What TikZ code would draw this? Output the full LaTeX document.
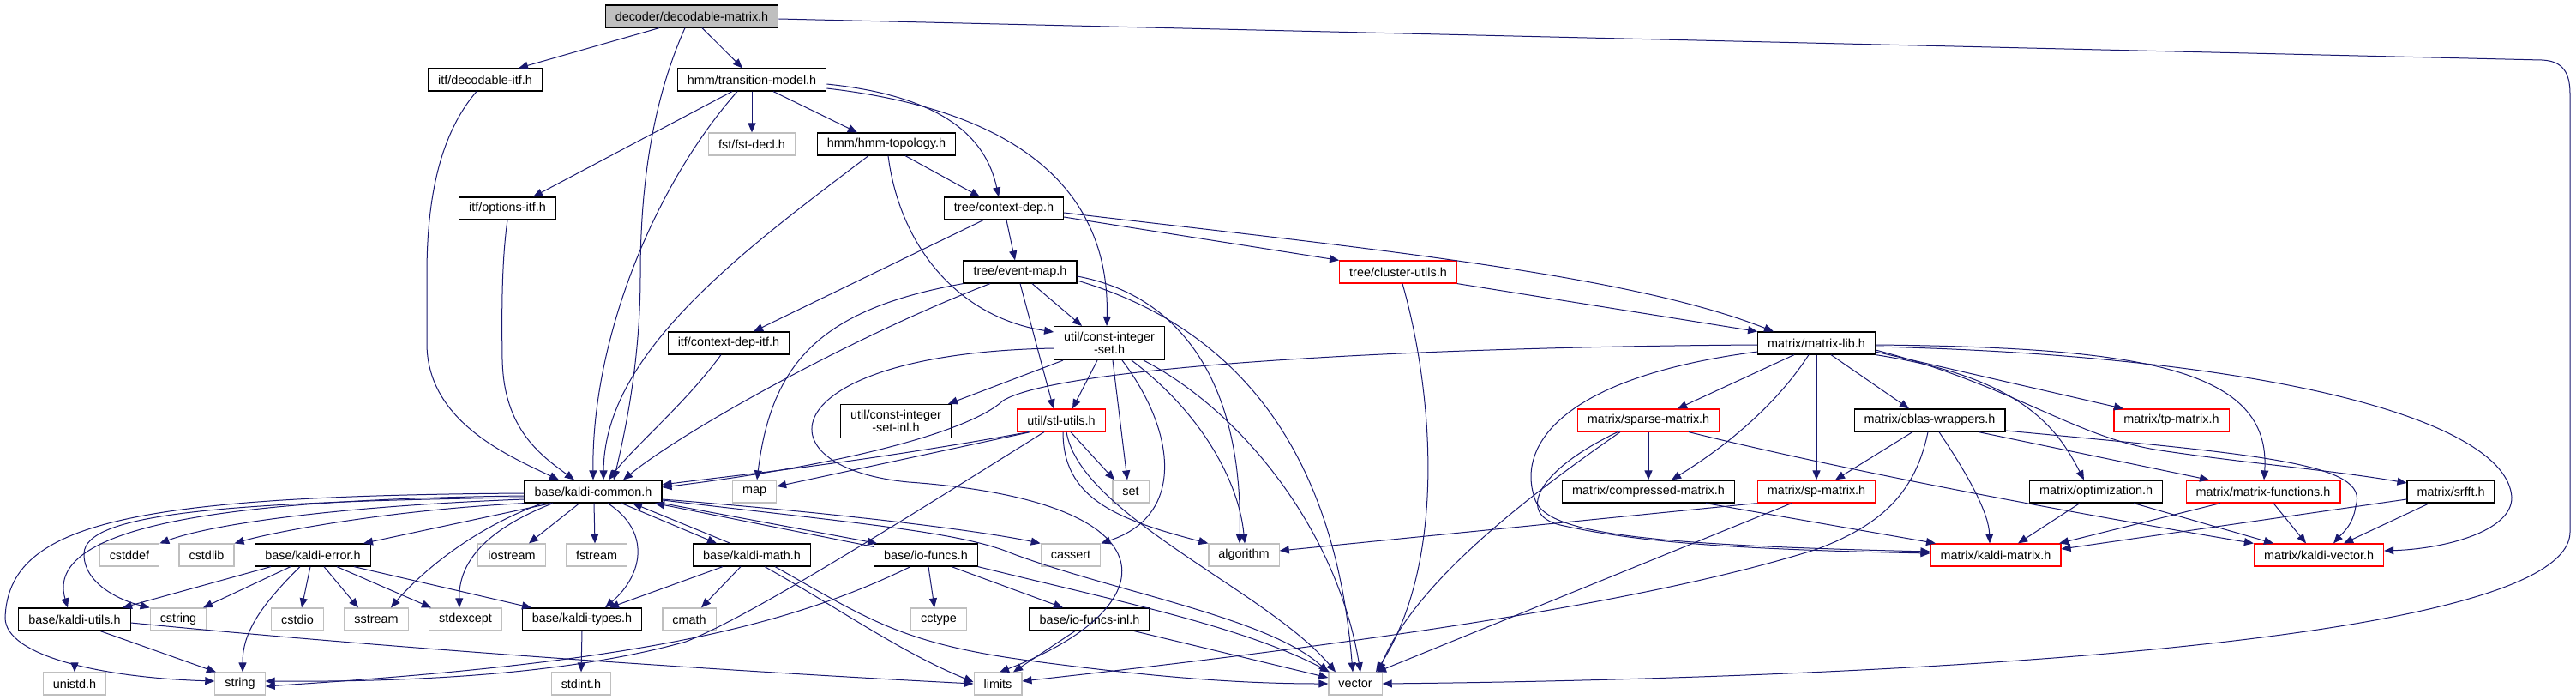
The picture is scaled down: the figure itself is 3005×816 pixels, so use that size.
\documentclass[tikz,border=0pt]{standalone}
\usepackage{fontspec}
\setmainfont{Liberation Sans}
\usetikzlibrary{arrows.meta}
\definecolor{depblue}{RGB}{25,25,112}
\definecolor{sysgray}{RGB}{191,191,191}
\definecolor{truncred}{RGB}{255,0,0}

\begin{document}
\begin{tikzpicture}[
    x=1pt, y=-1pt,
    file/.style={
      draw=black, fill=white, line width=1.2pt, minimum height=26pt,
      inner xsep=11.5pt, inner ysep=2pt, align=center,
      font=\fontsize{14.4}{15}\selectfont
    },
    sysfile/.style={file, draw=sysgray},
    redfile/.style={file, draw=truncred},
    rootfile/.style={file, fill=sysgray},
    twoline/.style={minimum height=39pt},
    dep/.style={-{Triangle[length=11pt,width=9pt]}, line width=1pt,
                color=depblue},
  ]

  \path[use as bounding box, fill=white] (0,0) rectangle (3005,816);

  % --- Upper levels ---
  \node[rootfile] (root) at (807,19) {decoder/decodable-matrix.h};
  \node[file] (decitf) at (566,93) {itf/decodable-itf.h};
  \node[file] (trans) at (877,93) {hmm/transition-model.h};
  \node[sysfile] (fstdecl) at (877,168) {fst/fst-decl.h};
  \node[file] (hmmtopo) at (1034,168) {hmm/hmm-topology.h};
  \node[file] (optitf) at (592,243) {itf/options-itf.h};
  \node[file] (ctxdep) at (1171,243) {tree/context-dep.h};
  \node[file] (evmap) at (1190,317) {tree/event-map.h};
  \node[redfile] (clutil) at (1631,317) {tree/cluster-utils.h};
  \node[file] (ctxitf) at (850,400) {itf/context-dep-itf.h};
  \node[file, twoline] (cis) at (1294,400) {util/const-integer\\-set.h};
  \node[file] (mlib) at (2119,400) {matrix/matrix-lib.h};
  \node[file, twoline] (cisinl) at (1045,491) {util/const-integer\\-set-inl.h};
  \node[redfile] (stl) at (1238,490) {util/stl-utils.h};
  \node[redfile] (sparse) at (1923,490) {matrix/sparse-matrix.h};
  \node[file] (cblas) at (2251,490) {matrix/cblas-wrappers.h};
  \node[redfile] (tpmat) at (2533,490) {matrix/tp-matrix.h};

  % --- base and matrix row ---
  \node[file] (common) at (692,573) {base/kaldi-common.h};
  \node[sysfile] (map) at (880,573) {map};
  \node[sysfile] (set) at (1319,573) {set};
  \node[file] (compr) at (1923,573) {matrix/compressed-matrix.h};
  \node[redfile] (sp) at (2119,573) {matrix/sp-matrix.h};
  \node[file] (optim) at (2445,573) {matrix/optimization.h};
  \node[redfile] (mfun) at (2640,573) {matrix/matrix-functions.h};
  \node[file] (srfft) at (2859,573) {matrix/srfft.h};

  \node[sysfile] (cstddef) at (151,647) {cstddef};
  \node[sysfile] (cstdlib) at (241,647) {cstdlib};
  \node[file] (kerr) at (365,647) {base/kaldi-error.h};
  \node[sysfile] (iostream) at (597,647) {iostream};
  \node[sysfile] (fstream) at (696,647) {fstream};
  \node[file] (kmath) at (877,647) {base/kaldi-math.h};
  \node[file] (iof) at (1080,647) {base/io-funcs.h};
  \node[sysfile] (cassert) at (1249,647) {cassert};
  \node[sysfile] (algo) at (1451,647) {algorithm};
  \node[redfile] (kmat) at (2328,647) {matrix/kaldi-matrix.h};
  \node[redfile] (kvec) at (2705,647) {matrix/kaldi-vector.h};

  \node[file] (kutil) at (87,722) {base/kaldi-utils.h};
  \node[sysfile] (cstring) at (208,722) {cstring};
  \node[sysfile] (cstdio) at (347,722) {cstdio};
  \node[sysfile] (sstream) at (439,722) {sstream};
  \node[sysfile] (stdexcept) at (543,722) {stdexcept};
  \node[file] (ktypes) at (679,722) {base/kaldi-types.h};
  \node[sysfile] (cmath) at (804,722) {cmath};
  \node[sysfile] (cctype) at (1095,722) {cctype};
  \node[file] (iofinl) at (1271,722) {base/io-funcs-inl.h};

  \node[sysfile] (unistd) at (87,797) {unistd.h};
  \node[sysfile] (string) at (280,797) {string};
  \node[sysfile] (stdint) at (678,797) {stdint.h};
  \node[sysfile] (limits) at (1164,797) {limits};
  \node[sysfile] (vector) at (1581,797) {vector};

  % Straight includes, bottom of one file to top of the next
  \foreach \a/\da/\b/\db in {root/-38/decitf/39, root/12/trans/-11,
      trans/-23/optitf/30, trans/0/fstdecl/0, trans/25/hmmtopo/-34,
      hmmtopo/22/ctxdep/-28, ctxdep/-24/ctxitf/29, ctxdep/3/evmap/-6,
      evmap/0/stl/-9, evmap/14/cis/-32, cis/-54/cisinl/61, cis/-14/stl/13,
      cis/4/set/-4, stl/11/set/-19, mlib/-26/sparse/34, mlib/0/sp/0,
      mlib/17/cblas/-24, sparse/0/compr/0, compr/67/kmat/-70,
      sp/-29/vector/25, cblas/-20/sp/22, cblas/57/mfun/-63,
      optim/-19/kmat/26, optim/44/kvec/-53, mfun/-50/kmat/74,
      mfun/12/kvec/-15, srfft/-25/kvec/29, common/-49/kerr/59,
      common/-16/iostream/20, common/1/fstream/-2, common/33/kmath/-41,
      kerr/-49/kutil/56, kerr/-26/cstring/29, kerr/-3/cstdio/5,
      kerr/13/sstream/-21, kerr/28/stdexcept/-40, kerr/48/ktypes/-59,
      kutil/0/unistd/0, kutil/30/string/-28, ktypes/0/stdint/0,
      kmath/-34/ktypes/32, kmath/-13/cmath/14, iof/3/cctype/-5,
      iof/30/iofinl/-31, iofinl/-17/limits/18}
    \draw[dep] ([xshift=\da]\a.south) -- ([xshift=\db]\b.north);

  % --- decoder / itf / hmm ---
  \draw[dep] ([xshift=-8]root.south) .. controls (760,120) and (747,220) .. (747,320)
    .. controls (747,420) and (730,500) .. ([xshift=24]common.north);
  \draw[dep] ([yshift=-3]root.east) -- (2965,70)
    .. controls (2990,71) and (2998,85) .. (2998,110) -- (2998,620)
    .. controls (2998,760) and (2100,792) .. (vector.east);
  \draw[dep] ([xshift=-10]decitf.south) .. controls (510,160) and (498,240) .. (498,320)
    -- (498,400) .. controls (498,490) and (590,530) .. ([xshift=-40]common.north);
  \draw[dep] (optitf.south) .. controls (586,300) and (585,350) .. (586,420)
    .. controls (588,500) and (630,530) .. ([xshift=-22]common.north);
  \draw[dep] ([xshift=-17]trans.south) .. controls (760,220) and (690,400) .. (common.north);
  \draw[dep] ([yshift=-5]trans.east) .. controls (1100,112) and (1150,160)
    .. ([xshift=-6]ctxdep.north);
  \draw[dep] ([yshift=-10]trans.east) .. controls (1200,130) and (1295,230)
    .. ([xshift=-3]cis.north);
  \draw[dep] ([xshift=-21]hmmtopo.south) .. controls (870,290) and (705,410)
    .. ([xshift=12]common.north);
  \draw[dep] ([xshift=2]hmmtopo.south) .. controls (1050,290) and (1120,370)
    .. ([yshift=13]cis.west);

  % --- tree ---
  \draw[dep] ([yshift=-10]ctxdep.east) -- (clutil.north west);
  \draw[dep] ([yshift=-5]ctxdep.east) .. controls (1600,290) and (1900,320)
    .. ([xshift=-50]mlib.north);
  \draw[dep] (clutil.south east) -- (mlib.north west);
  \draw[dep] ([xshift=5]clutil.south) .. controls (1670,450) and (1690,650)
    .. ([xshift=24]vector.north);
  \draw[dep] (evmap.south west) .. controls (960,360) and (900,420) .. ([xshift=3]map.north);
  \draw[dep] ([xshift=-35]evmap.south) .. controls (1000,390) and (800,500)
    .. ([xshift=35]common.north);
  \draw[dep] ([yshift=-5]evmap.east) .. controls (1380,345) and (1450,450)
    .. ([xshift=-5]algo.north);
  \draw[dep] ([yshift=-10]evmap.east) .. controls (1470,390) and (1560,560)
    .. ([xshift=-3]vector.north);
  \draw[dep] ([xshift=-9]ctxitf.south) .. controls (800,470) and (740,520)
    .. ([xshift=18]common.north);

  % --- util ---
  \draw[dep] ([xshift=15]cis.south) .. controls (1370,500) and (1385,600) .. (cassert.north east);
  \draw[dep] ([xshift=26]cis.south) .. controls (1400,480) and (1445,560)
    .. ([xshift=1]algo.north);
  \draw[dep] ([xshift=40]cis.south) .. controls (1450,480) and (1560,620)
    .. ([xshift=6]vector.north);
  \draw[dep] ([yshift=-6]cis.west) .. controls (900,412) and (880,545) .. (1060,562)
    .. controls (1380,585) and (1360,710) .. ([xshift=2]limits.north);
  \draw[dep] ([xshift=-38]stl.south) .. controls (1000,540) and (850,555)
    .. ([yshift=8]common.east);
  \draw[dep] ([xshift=-36]stl.south) -- ([yshift=6]map.east);
  \draw[dep] ([xshift=-20]stl.south) .. controls (1000,640) and (870,720) .. (800,748)
    .. controls (650,790) and (450,795) .. ([yshift=3]string.east);
  \draw[dep] ([xshift=2]stl.south) .. controls (1240,580) and (1300,605) .. (algo.north west);
  \draw[dep] ([xshift=6]stl.south) .. controls (1260,600) and (1480,690)
    .. ([xshift=-23]vector.north);

  % --- matrix ---
  \draw[dep] ([yshift=-2]mlib.west) .. controls (1600,405) and (1230,430) .. (1170,467)
    .. controls (1135,500) and (1000,540) .. ([yshift=5]common.east);
  \draw[dep] ([yshift=-10]mlib.west) .. controls (1820,440) and (1770,520) .. (1790,580)
    .. controls (1800,620) and (1900,635) .. ([yshift=4]kmat.west);
  \draw[dep] ([xshift=-9]mlib.south) .. controls (2080,460) and (2030,510)
    .. ([xshift=27]compr.north);
  \draw[dep] ([yshift=-10]mlib.east) -- ([xshift=-56]tpmat.north);
  \draw[dep] (mlib.south east) .. controls (2360,440) and (2400,500)
    .. ([xshift=-14]optim.north);
  \draw[dep] ([yshift=-2]mlib.east) .. controls (2500,405) and (2650,430)
    .. ([xshift=1]mfun.north);
  \draw[dep] ([yshift=-4]mlib.east) .. controls (2650,415) and (2925,490) .. (2930,580)
    .. controls (2930,620) and (2850,640) .. ([yshift=5]kvec.east);
  \draw[dep] ([yshift=-8]mlib.east) .. controls (2350,450) and (2420,510) .. (2520,525)
    .. controls (2620,540) and (2720,548) .. ([yshift=10]srfft.west);
  \draw[dep] ([xshift=-36]sparse.south) .. controls (1790,550) and (1770,600) .. (1820,612)
    .. controls (1900,630) and (2000,640) .. ([yshift=2]kmat.west);
  \draw[dep] ([xshift=-33]sparse.south) .. controls (1780,580) and (1650,680)
    .. ([xshift=27]vector.north);
  \draw[dep] ([xshift=47]sparse.south) .. controls (2150,548) and (2400,595)
    .. (kvec.north west);
  \draw[dep] (sp.south west) -- ([yshift=5]algo.east);
  \draw[dep] ([xshift=-2]cblas.south) .. controls (2235,570) and (2200,610) .. (2120,640)
    .. controls (1900,710) and (1500,760) .. ([yshift=3]limits.east);
  \draw[dep] ([xshift=11]cblas.south) .. controls (2300,560) and (2320,600)
    .. ([xshift=-7]kmat.north);
  \draw[dep] ([yshift=-12]cblas.east) .. controls (2640,530) and (2765,540) .. (2748,590)
    .. controls (2745,612) and (2732,622) .. ([xshift=17]kvec.north);
  \draw[dep] ([yshift=-9]srfft.west) -- ([yshift=7]kmat.east);

  % --- base ---
  \draw[dep] ([yshift=-2]common.west) .. controls (150,578) and (10,610) .. (6,720)
    .. controls (6,765) and (120,790) .. ([yshift=3]string.west);
  \draw[dep] ([yshift=-5]common.west) .. controls (280,582) and (50,610)
    .. ([xshift=-8]kutil.north);
  \draw[dep] ([yshift=-7]common.west) .. controls (250,585) and (100,600) .. (98,645)
    .. controls (97,680) and (140,700) .. (cstring.north west);
  \draw[dep] ([yshift=-9]common.west) .. controls (400,590) and (250,610) .. (cstddef.north east);
  \draw[dep] (common.south west) .. controls (450,595) and (320,620) .. (cstdlib.north east);
  \draw[dep] ([xshift=-59]common.south) .. controls (540,620) and (480,680)
    .. ([xshift=17]sstream.north);
  \draw[dep] ([xshift=-47]common.south) .. controls (560,620) and (535,660)
    .. ([xshift=-7]stdexcept.north);
  \draw[dep] ([xshift=17]common.south) .. controls (760,620) and (750,670)
    .. ([xshift=27]ktypes.north);
  \draw[dep] ([xshift=-25]kmath.north) -- ([xshift=46]common.south);
  \draw[dep] (common.south east) -- ([xshift=4]iof.north west);
  \draw[dep] ([yshift=-4]iof.north west) -- ([xshift=72]common.south);
  \draw[dep] ([yshift=-9]common.east) .. controls (1000,600) and (1150,620) .. (cassert.north west);
  \draw[dep] ([yshift=-10]common.east) .. controls (1000,610) and (1120,620) .. (1180,645)
    .. controls (1300,690) and (1480,720) .. (vector.north west);
  \draw[dep] ([xshift=-15]kerr.south) .. controls (300,710) and (283,740)
    .. ([xshift=3]string.north);
  \draw[dep] ([yshift=-4]kutil.east) .. controls (500,760) and (900,785) .. (limits.west);
  \draw[dep] ([xshift=15]kmath.south) .. controls (980,710) and (1050,760)
    .. ([yshift=2]limits.west);
  \draw[dep] ([xshift=27]kmath.south) .. controls (1010,720) and (1050,750) .. (1200,770)
    .. controls (1350,790) and (1450,797) .. (vector.west);
  \draw[dep] ([xshift=-18]iof.south) .. controls (900,740) and (700,775)
    .. ([yshift=-3]string.east);
  \draw[dep] (iof.south east) .. controls (1300,700) and (1450,730)
    .. ([xshift=-30]vector.north);
  \draw[dep] ([xshift=52]iofinl.south) -- ([yshift=7]vector.west);

\end{tikzpicture}
\end{document}
